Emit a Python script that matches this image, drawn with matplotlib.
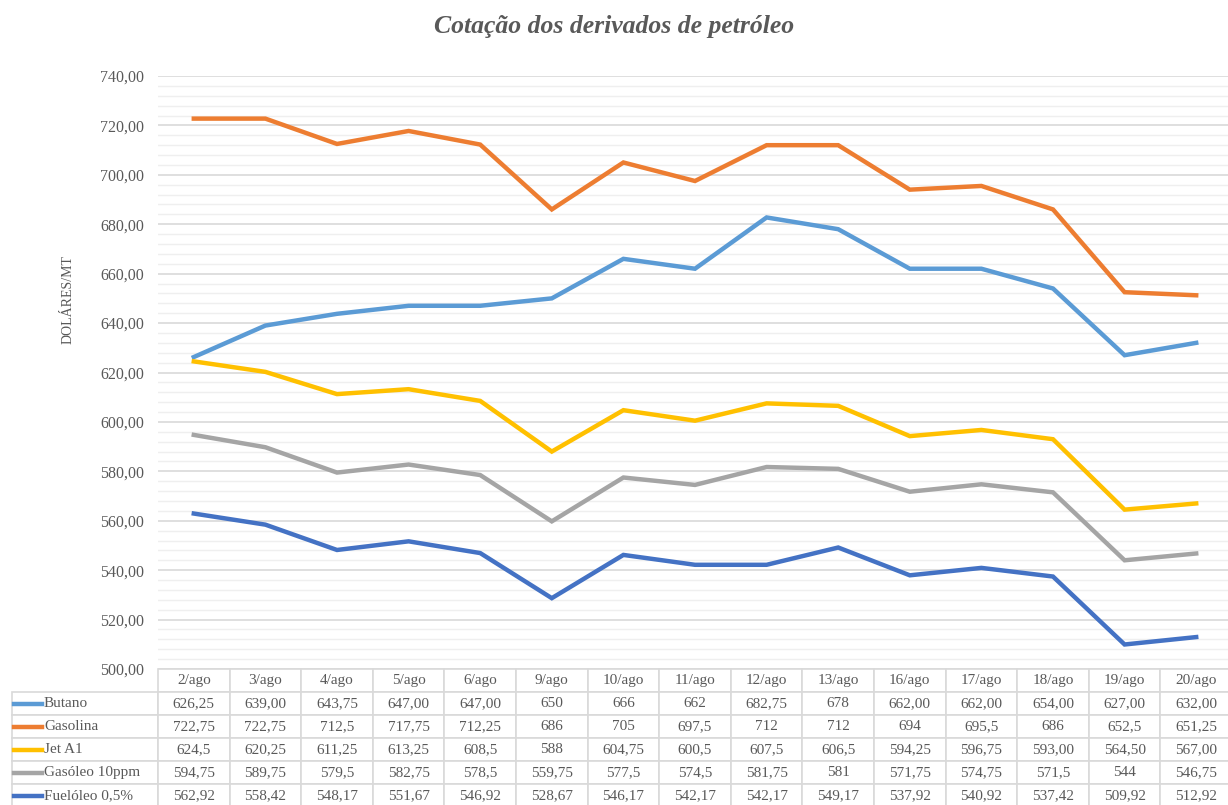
import numpy as np
import matplotlib
matplotlib.use("Agg")
import matplotlib.pyplot as plt
from matplotlib.ticker import MultipleLocator, FuncFormatter

plt.rcParams['font.family'] = ['Liberation Serif', 'DejaVu Serif']

# dates shown along the bottom of the chart
dias = ["2/ago", "3/ago", "4/ago", "5/ago", "6/ago", "9/ago", "10/ago", "11/ago",
        "12/ago", "13/ago", "16/ago", "17/ago", "18/ago", "19/ago", "20/ago"]

# values as they appear in the data table (mixed formatting kept on purpose)
butano = ["626,25", "639,00", "643,75", "647,00", "647,00", "650", "666", "662",
          "682,75", "678", "662,00", "662,00", "654,00", "627,00", "632,00"]
gasolina = ["722,75", "722,75", "712,5", "717,75", "712,25", "686", "705", "697,5",
            "712", "712", "694", "695,5", "686", "652,5", "651,25"]
jet_a1 = ["624,5", "620,25", "611,25", "613,25", "608,5", "588", "604,75", "600,5",
          "607,5", "606,5", "594,25", "596,75", "593,00", "564,50", "567,00"]
gasoleo = ["594,75", "589,75", "579,5", "582,75", "578,5", "559,75", "577,5", "574,5",
           "581,75", "581", "571,75", "574,75", "571,5", "544", "546,75"]
fueloleo = ["562,92", "558,42", "548,17", "551,67", "546,92", "528,67", "546,17", "542,17",
            "542,17", "549,17", "537,92", "540,92", "537,42", "509,92", "512,92"]

series = [
    ("Butano", butano, "#5B9BD5"),
    ("Gasolina", gasolina, "#ED7D31"),
    ("Jet A1", jet_a1, "#FFC000"),
    ("Gasóleo 10ppm", gasoleo, "#A5A5A5"),
    ("Fuelóleo 0,5%", fueloleo, "#4472C4"),
]

txt_color = "#595959"
grid_major = "#d9d9d9"
grid_minor = "#efefef"

fig = plt.figure(figsize=(12.28, 8.05), dpi=100)
ax = fig.add_axes([158 / 1228, 136 / 805, 1074 / 1228, 593 / 805])

x = np.arange(len(dias))
for name, vals, color in series:
    y = [float(v.replace(",", ".")) for v in vals]
    ax.plot(x, y, color=color, linewidth=3.2, solid_joinstyle="miter", zorder=3)

ax.set_xlim(-0.5, len(dias) - 0.5)
ax.set_ylim(500, 740)
ax.yaxis.set_major_locator(MultipleLocator(20))
ax.yaxis.set_minor_locator(MultipleLocator(4))
ax.yaxis.set_major_formatter(FuncFormatter(lambda v, p: f"{v:.2f}".replace(".", ",")))
ax.grid(which="major", axis="y", color=grid_major, linewidth=1.2)
ax.grid(which="minor", axis="y", color=grid_minor, linewidth=1.0)
ax.set_axisbelow(True)
ax.tick_params(axis="y", which="both", length=0, pad=10, labelsize=11.5, labelcolor=txt_color)
ax.tick_params(axis="x", which="both", length=0, labelbottom=False)
for s in ax.spines.values():
    s.set_visible(False)

fig.text(0.5, 1 - 27 / 805, "Cotação dos derivados de petróleo", ha="center", va="center",
         fontsize=18.5, fontweight="bold", fontstyle="italic", color=txt_color)
fig.text(68 / 1228, 1 - 300 / 805, "DOLÁRES/MT", rotation=90, ha="center", va="center",
         fontsize=10, color=txt_color)

# data table under the plot
label_w = 146 / 1074
cell_rows = [[""] + dias] + [[name] + vals for name, vals, _ in series]
col_widths = [label_w] + [1 / len(dias)] * len(dias)
nrows = len(cell_rows)
tab_h = 138 / 593
tbl = ax.table(cellText=cell_rows, colWidths=col_widths, cellLoc="center",
               bbox=[-label_w, -tab_h, 1 + label_w, tab_h])
tbl.auto_set_font_size(False)
tbl.set_fontsize(11)
for (r, c), cell in tbl.get_celld().items():
    cell.set_edgecolor(grid_major)
    cell.set_linewidth(1.2)
    cell.get_text().set_color(txt_color)
    if r == 0 and c == 0:
        cell.visible_edges = ""
    if c == 0 and r > 0:
        cell.get_text().set_ha("left")
        cell._loc = "left"
        cell.PAD = 32 / 146

# legend keys inside the label column
row_h = tab_h / nrows
for i, (name, vals, color) in enumerate(series):
    yc = -(i + 1.5) * row_h
    ax.plot([(14 - 158) / 1074, (42 - 158) / 1074], [yc, yc], color=color,
            linewidth=3.2, transform=ax.transAxes, clip_on=False, zorder=5)

fig.savefig("out.png", dpi=100)
